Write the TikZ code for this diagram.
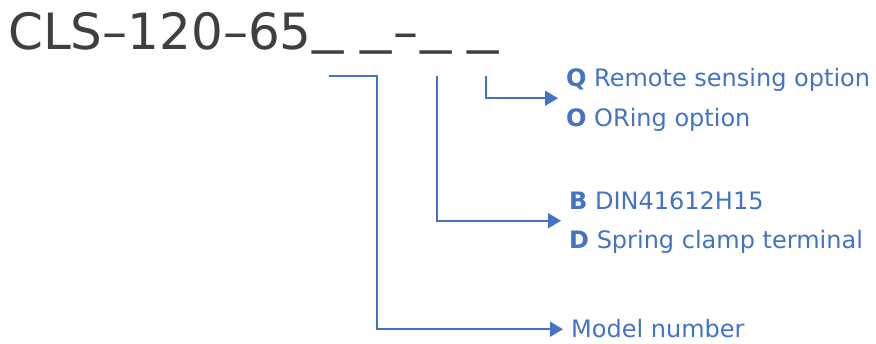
\documentclass[tikz,border=0pt]{standalone}
\usepackage{fontspec}
\usepackage{graphicx}
\setmainfont{DejaVu Sans}
\usetikzlibrary{arrows.meta,calc}
\definecolor{leadblue}{HTML}{4472C4}
\definecolor{codegray}{HTML}{3F3F3F}
\newcommand{\codeslot}{\scalebox{1.25}[1]{\raisebox{7pt}{\_}}}
\begin{document}
\begin{tikzpicture}[x=1pt,y=-1pt,
	lead/.style={leadblue,line width=1.8pt,-{Triangle[length=13pt,width=15pt]}},
	option/.style={anchor=base west,inner xsep=8pt,inner ysep=0pt,text height=17.5pt,text depth=0pt,leadblue,font=\fontsize{24}{28}\selectfont}]
	\useasboundingbox (0,0) rectangle (876,344);
	\node[anchor=base west,inner sep=0pt,codegray,font=\fontsize{50}{60}\selectfont] (code) at (8,50)
		{CLS–120–65\kern1pt\codeslot\kern16pt\codeslot\kern2pt–\kern2pt\codeslot\kern16pt\codeslot};
	\coordinate (modelstart) at (329,76);
	\coordinate (modelbend) at (377,76);
	\coordinate (termstart) at (437,76);
	\coordinate (optstart) at (486,76);
	\node[option] (optQ) at (558,87) {\textbf{Q} Remote sensing option};
	\node[option] (optO) at (558,127) {\textbf{O} ORing option};
	\node[option] (termB) at (561,210) {\textbf{B} DIN41612H15};
	\node[option] (termD) at (561,249) {\textbf{D} Spring clamp terminal};
	\node[option] (model) at (563,338) {Model number};
	\draw[lead] (optstart) |- ($(optQ.west)!0.5!(optO.west)$);
	\draw[lead] (termstart) |- ($(termB.west)!0.5!(termD.west)$);
	\draw[lead] (modelstart) -- (modelbend) |- (model.west);
\end{tikzpicture}
\end{document}
